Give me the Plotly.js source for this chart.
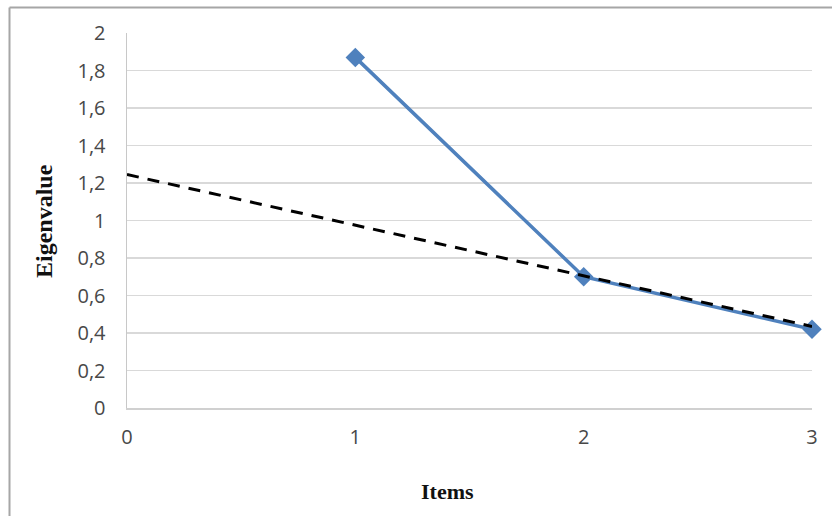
<!DOCTYPE html>
<html>
<head>
<meta charset="utf-8">
<script src="https://cdn.plot.ly/plotly-3.0.1.min.js"></script>
<style>html,body{margin:0;padding:0;background:#fff;}#chart{width:832px;height:516px;}</style>
</head>
<body>
<div id="chart"></div>
<script>
// Data
const items = [1, 2, 3];
const eigenvalues = [1.87, 0.70, 0.42];
const refX = [0, 3];
const refY = [1.245, 0.435];
const yTickVals = [0, 0.2, 0.4, 0.6, 0.8, 1, 1.2, 1.4, 1.6, 1.8, 2];
const yTickText = ['0', '0,2', '0,4', '0,6', '0,8', '1', '1,2', '1,4', '1,6', '1,8', '2'];
const xTickVals = [0, 1, 2, 3];
const xTickText = ['0', '1', '2', '3'];
const xTitle = 'Items';
const yTitle = 'Eigenvalue';

const traces = [
  {
    x: items, y: eigenvalues, type: 'scatter', mode: 'lines+markers',
    line: {color: '#4f81bd', width: 3.5},
    marker: {symbol: 'diamond', size: 15, color: '#4f81bd'},
    cliponaxis: false, showlegend: false, hoverinfo: 'none'
  },
  {
    x: refX, y: refY, type: 'scatter', mode: 'lines',
    line: {color: '#000000', width: 3, dash: '12px,9px'},
    cliponaxis: false, showlegend: false, hoverinfo: 'none'
  }
];

const tickFont = {family: '"Open Sans", "Noto Sans", sans-serif', size: 20, color: '#484848'};
const xTitleFont = {family: '"Liberation Serif", "Times New Roman", serif', size: 22, color: '#111111', weight: 'bold'};
const yTitleFont = {family: '"Liberation Serif", "Times New Roman", serif', size: 24, color: '#111111', weight: 'bold'};

const layout = {
  width: 832, height: 516,
  margin: {l: 127, r: 20, t: 33, b: 108, pad: 0},
  paper_bgcolor: '#ffffff', plot_bgcolor: '#ffffff',
  xaxis: {
    range: [0, 3], tickvals: xTickVals, ticktext: xTickText,
    showgrid: false, zeroline: false, showline: true, linecolor: '#d0d0d0', linewidth: 1.5,
    ticks: 'outside', ticklen: 10, tickcolor: 'rgba(0,0,0,0)',
    tickfont: tickFont, fixedrange: true
  },
  yaxis: {
    range: [0, 2], tickvals: yTickVals, ticktext: yTickText,
    showgrid: true, gridcolor: '#d9d9d9', gridwidth: 1.5, zeroline: false,
    showline: true, linecolor: '#c8c8c8', linewidth: 1.5,
    ticks: 'outside', ticklen: 16, tickcolor: 'rgba(0,0,0,0)',
    tickfont: tickFont, fixedrange: true
  },
  annotations: [
    {text: xTitle, xref: 'paper', yref: 'paper', x: (447 - 127) / 685, y: (408 - 491) / 375,
     showarrow: false, font: xTitleFont, xanchor: 'center', yanchor: 'middle'},
    {text: yTitle, xref: 'paper', yref: 'paper', x: (44 - 127) / 685, y: (408 - 221) / 375,
     showarrow: false, font: yTitleFont, textangle: -90, xanchor: 'center', yanchor: 'middle'}
  ],
  shapes: [
    {type: 'line', xref: 'paper', yref: 'paper', x0: (9.5 - 127) / 685, x1: (9.5 - 127) / 685,
     y0: (408 - 7.5) / 375, y1: (408 - 520) / 375, line: {color: '#a6a6a6', width: 2}},
    {type: 'line', xref: 'paper', yref: 'paper', x0: (9.5 - 127) / 685, x1: (840 - 127) / 685,
     y0: (408 - 7.5) / 375, y1: (408 - 7.5) / 375, line: {color: '#a6a6a6', width: 2}}
  ]
};

Plotly.newPlot('chart', traces, layout, {displayModeBar: false, staticPlot: true});
</script>
</body>
</html>
